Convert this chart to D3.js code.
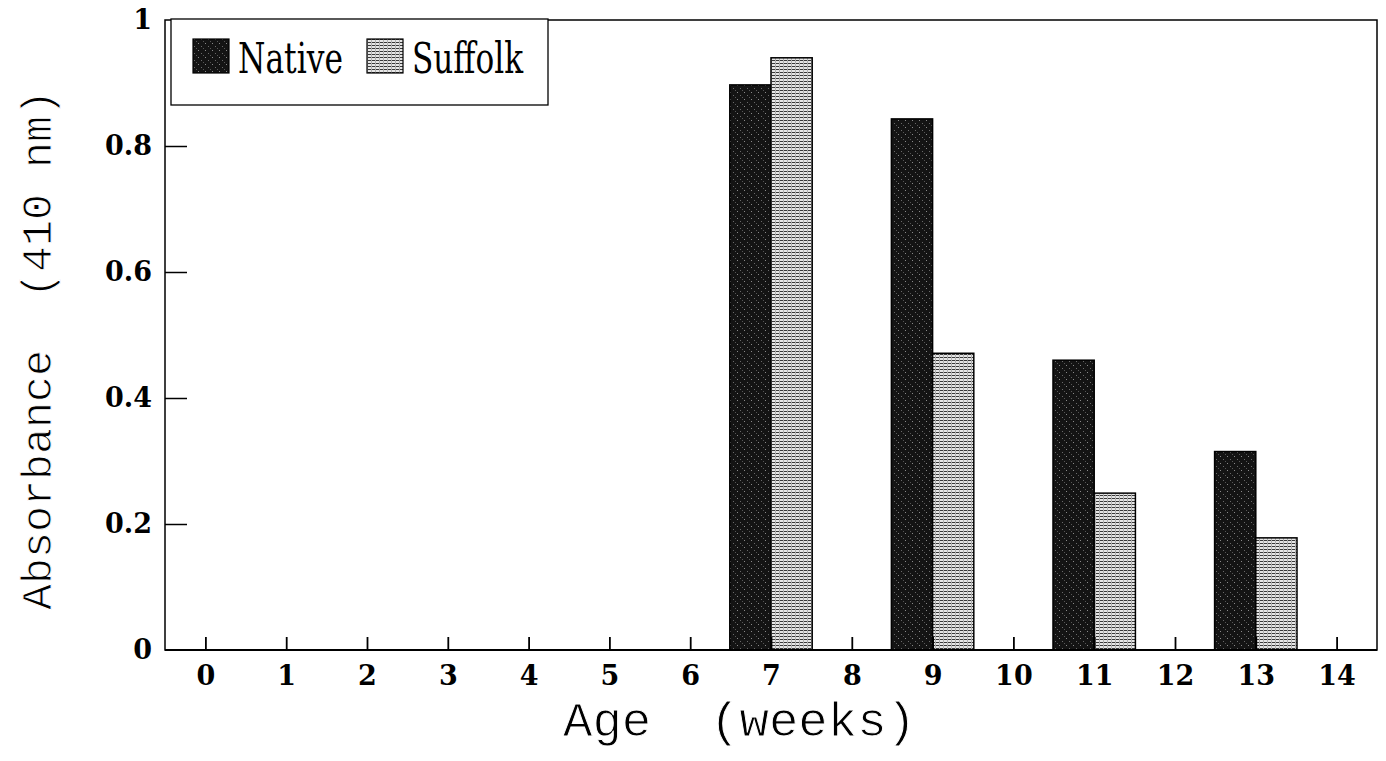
<!DOCTYPE html>
<html>
<head>
<meta charset="utf-8">
<script src="https://cdn.jsdelivr.net/npm/d3@7"></script>
<style>
  body { margin: 0; background: #fff; }
  .tick-label { font-family: "DejaVu Serif", serif; font-weight: bold; font-size: 27px; }
  .axis-title { font-family: "Liberation Mono", "Courier New", monospace; stroke: #fff; stroke-width: 0.9px; }
  .legend-text { font-family: "DejaVu Serif", serif; font-size: 42px; }
</style>
</head>
<body>
<div id="chart"></div>
<script>
const width = 1386;
const height = 761;

const margin = { top: 20, right: 9, bottom: 111, left: 165 };

// Data
const ages = [7, 9, 11, 13];
const nativeValues = [0.897, 0.843, 0.46, 0.315];
const suffolkValues = [0.94, 0.471, 0.249, 0.178];
const seriesNames = ["Native", "Suffolk"];
const xTicks = [0, 1, 2, 3, 4, 5, 6, 7, 8, 9, 10, 11, 12, 13, 14];
const yTicks = [0, 0.2, 0.4, 0.6, 0.8, 1];

const svg = d3.select("#chart")
  .append("svg")
  .attr("width", width)
  .attr("height", height);

const defs = svg.append("defs");

// dark speckled fill for Native
const pN = defs.append("pattern")
  .attr("id", "pat-native")
  .attr("width", 7).attr("height", 7)
  .attr("patternUnits", "userSpaceOnUse");
pN.append("rect").attr("width", 7).attr("height", 7).attr("fill", "#141414");
pN.append("rect").attr("x", 2).attr("y", 1).attr("width", 1).attr("height", 1).attr("fill", "#8a8a8a");
pN.append("rect").attr("x", 5).attr("y", 4).attr("width", 1).attr("height", 1).attr("fill", "#6a6a6a");
pN.append("rect").attr("x", 0).attr("y", 6).attr("width", 1).attr("height", 1).attr("fill", "#555");

// horizontal hatch for Suffolk
const pS = defs.append("pattern")
  .attr("id", "pat-suffolk")
  .attr("width", 4).attr("height", 3)
  .attr("patternUnits", "userSpaceOnUse");
pS.append("rect").attr("width", 4).attr("height", 3).attr("fill", "#e6e6e6");
pS.append("rect").attr("width", 4).attr("height", 1).attr("fill", "#3a3a3a");
pS.append("rect").attr("x", 3).attr("width", 1).attr("height", 3).attr("fill", "#b0b0b0");

const fills = { Native: "url(#pat-native)", Suffolk: "url(#pat-suffolk)" };

const x = d3.scaleLinear()
  .domain([-0.5, 14.5])
  .range([margin.left, width - margin.right]);

const y = d3.scaleLinear()
  .domain([0, 1])
  .range([height - margin.bottom, margin.top]);

const barW = 0.51;

let bars = [];
ages.forEach(function(a, i) {
  bars.push({ age: a, series: "Native", value: nativeValues[i], x0: a - barW, x1: a });
  bars.push({ age: a, series: "Suffolk", value: suffolkValues[i], x0: a, x1: a + barW });
});

svg.selectAll(".bar")
  .data(bars)
  .enter()
  .append("rect")
  .attr("class", "bar")
  .attr("x", function(d) { return x(d.x0); })
  .attr("y", function(d) { return y(d.value); })
  .attr("width", function(d) { return x(d.x1) - x(d.x0); })
  .attr("height", function(d) { return y(0) - y(d.value); })
  .attr("fill", function(d) { return fills[d.series]; })
  .attr("stroke", "#000")
  .attr("stroke-width", 1.5);

// frame
svg.append("rect")
  .attr("x", x(-0.5))
  .attr("y", y(1))
  .attr("width", x(14.5) - x(-0.5))
  .attr("height", y(0) - y(1))
  .attr("fill", "none")
  .attr("stroke", "#000")
  .attr("stroke-width", 1.5);

svg.append("line")
  .attr("x1", x(-0.5)).attr("x2", x(14.5))
  .attr("y1", y(0)).attr("y2", y(0))
  .attr("stroke", "#000")
  .attr("stroke-width", 2.2);

// x axis: ticks pointing up, labels below
const xAxis = d3.axisBottom(x)
  .tickValues(xTicks)
  .tickSize(-13)
  .tickPadding(16)
  .tickFormat(d3.format("d"));

const gx = svg.append("g")
  .attr("transform", "translate(0," + y(0) + ")")
  .call(xAxis);
gx.select(".domain").remove();
gx.selectAll("line").attr("stroke", "#000").attr("stroke-width", 1.8);
gx.selectAll("text").attr("class", "tick-label").attr("fill", "#000");

// y axis: ticks pointing in, labels left
const yAxis = d3.axisLeft(y)
  .tickValues(yTicks)
  .tickSize(-22)
  .tickPadding(13)
  .tickFormat(function(d) { return d === 0 || d === 1 ? d3.format("d")(d) : d3.format(".1f")(d); });

const gy = svg.append("g")
  .attr("transform", "translate(" + x(-0.5) + ",0)")
  .call(yAxis);
gy.select(".domain").remove();
gy.selectAll("line").attr("stroke", "#000").attr("stroke-width", 1.5);
gy.selectAll("text").attr("class", "tick-label").attr("fill", "#000");
gy.selectAll(".tick").filter(function(d) { return d === 0 || d === 1; })
  .select("line").remove();

// axis titles
svg.append("text")
  .attr("class", "axis-title")
  .attr("font-size", 49)
  .attr("x", 563)
  .attr("y", 736)
  .attr("xml:space", "preserve")
  .attr("textLength", 353)
  .attr("lengthAdjust", "spacingAndGlyphs")
  .text("Age  (weeks)");

svg.append("text")
  .attr("class", "axis-title")
  .attr("font-size", 42)
  .attr("transform", "translate(51,610) rotate(-90)")
  .attr("xml:space", "preserve")
  .attr("textLength", 520)
  .attr("lengthAdjust", "spacingAndGlyphs")
  .text("Absorbance  (410 nm)");

// legend
const legend = svg.append("g");
legend.append("rect")
  .attr("x", 171).attr("y", 19)
  .attr("width", 377).attr("height", 86)
  .attr("fill", "#fff")
  .attr("stroke", "#000")
  .attr("stroke-width", 1.3);

const legendX = [193, 367];
const legendW = [105, 111];
seriesNames.forEach(function(name, i) {
  legend.append("rect")
    .attr("x", legendX[i]).attr("y", 39)
    .attr("width", 36).attr("height", 34)
    .attr("fill", fills[name])
    .attr("stroke", "#000")
    .attr("stroke-width", 1.2);
  legend.append("text")
    .attr("class", "legend-text")
    .attr("x", legendX[i] + 45)
    .attr("y", 73)
    .attr("textLength", legendW[i])
    .attr("lengthAdjust", "spacingAndGlyphs")
    .text(name);
});
</script>
</body>
</html>
